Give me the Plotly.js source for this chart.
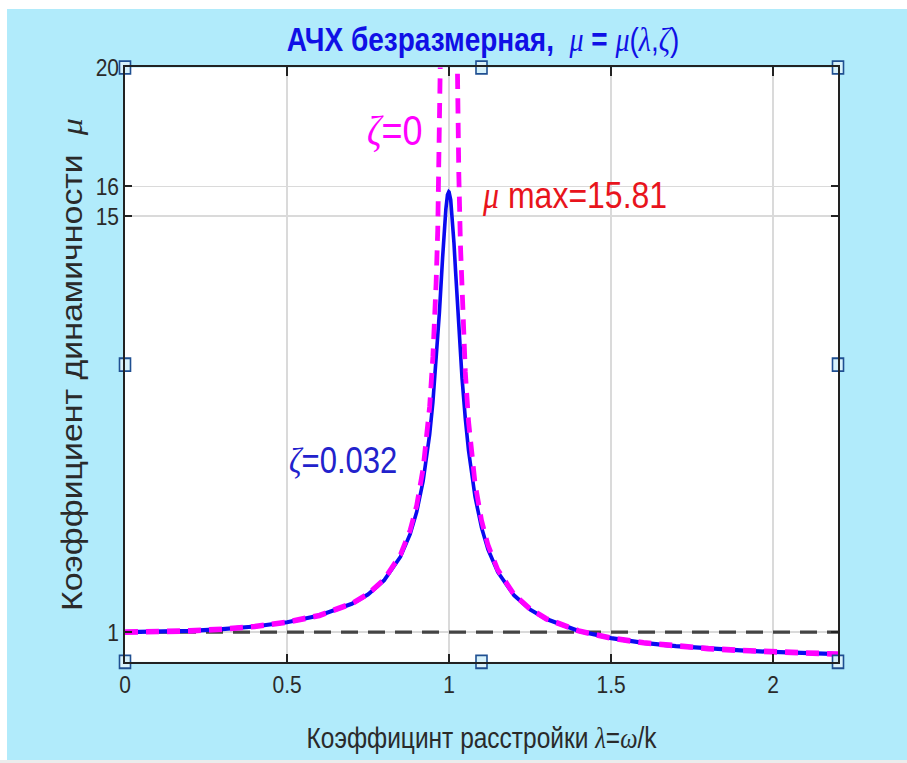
<!DOCTYPE html>
<html>
<head>
<meta charset="utf-8">
<script src="https://cdn.plot.ly/plotly-3.0.1.min.js"></script>
<style>
  html, body { margin: 0; padding: 0; background: #ffffff; width: 907px; height: 763px; overflow: hidden; }
  #bg { position: absolute; left: 7px; top: 9px; width: 900px; height: 751px; background: #b1ebfb; overflow: hidden; }
  #plot { position: absolute; left: 0; top: 0; width: 900px; height: 642px; transform: scaleY(1.17); transform-origin: 0 0; }
  #strip { position: absolute; left: 0; top: 760px; width: 907px; height: 3px; background: #ececec; }
</style>
</head>
<body>
<div id="bg"><div id="plot"></div></div>
<div id="strip"></div>
<script>
// ζ = 0.032 response
const lambdaDamped = [0, 0.1, 0.2, 0.3, 0.4, 0.5, 0.6, 0.7, 0.75, 0.8, 0.85, 0.88, 0.9, 0.92, 0.94, 0.95, 0.96, 0.97, 0.98, 0.985, 0.99, 0.995, 0.999, 1.0, 1.005, 1.01, 1.015, 1.02, 1.03, 1.04, 1.05, 1.06, 1.08, 1.1, 1.12, 1.15, 1.2, 1.25, 1.3, 1.4, 1.5, 1.6, 1.7, 1.8, 1.9, 2.0, 2.1, 2.2];
const muDamped = [1, 1.010, 1.042, 1.099, 1.190, 1.332, 1.560, 1.953, 2.272, 2.751, 3.538, 4.304, 5.042, 6.089, 7.652, 8.733, 10.09, 11.74, 13.60, 14.49, 15.23, 15.71, 15.81, 15.80, 15.55, 14.94, 14.10, 13.15, 11.22, 9.544, 8.189, 7.113, 5.560, 4.521, 3.787, 3.025, 2.240, 1.761, 1.439, 1.037, 0.798, 0.640, 0.528, 0.446, 0.383, 0.333, 0.293, 0.260];

// ζ = 0 response (goes off-scale near λ = 1)
const lambdaUndamped = [0, 0.1, 0.2, 0.3, 0.4, 0.5, 0.6, 0.7, 0.75, 0.8, 0.85, 0.88, 0.9, 0.92, 0.94, 0.95, 0.955, 0.96, 0.965, 0.97, 0.975, 0.98, null, 1.02, 1.025, 1.03, 1.035, 1.04, 1.045, 1.05, 1.06, 1.08, 1.1, 1.12, 1.15, 1.2, 1.25, 1.3, 1.4, 1.5, 1.6, 1.7, 1.8, 1.9, 2.0, 2.1, 2.2];
const muUndamped = [1, 1.010, 1.042, 1.099, 1.190, 1.333, 1.563, 1.961, 2.286, 2.778, 3.604, 4.433, 5.263, 6.510, 8.591, 10.26, 11.37, 12.76, 14.54, 16.92, 20.25, 25.25, null, 24.75, 19.75, 16.42, 14.04, 12.25, 10.87, 9.756, 8.091, 6.010, 4.762, 3.931, 3.101, 2.273, 1.778, 1.449, 1.042, 0.800, 0.641, 0.529, 0.446, 0.383, 0.333, 0.293, 0.260];

// reference level μ = 1
const refX = [0, 2.2];
const refY = [1, 1];

// axis handle squares
const handleX = [0, 1.1, 2.2, 0, 2.2, 0, 1.1, 2.2];
const handleY = [0, 0, 0, 10, 10, 20, 20, 20];

const xTickVals = [0, 0.5, 1, 1.5, 2];
const xTickText = ['0', '0.5', '1', '1.5', '2'];
const yTickVals = [1, 15, 16, 20];
const yTickText = ['1', '15', '16', '20'];

const SANS = '"Liberation Sans", Arial, sans-serif';
const SERIF = "'Liberation Serif', 'Times New Roman', serif";
const gs = (t) => '<span style="font-family:' + SERIF + '"><i>' + t + '</i></span>';

const traces = [
  { x: refX, y: refY, mode: 'lines', line: { color: '#444444', width: 2.6, dash: '17px,10px' }, hoverinfo: 'skip', showlegend: false },
  { x: lambdaDamped, y: muDamped, mode: 'lines', line: { color: '#0a0af0', width: 3.6 }, showlegend: false },
  { x: lambdaUndamped, y: muUndamped, mode: 'lines', line: { color: '#ff00ff', width: 4.8, dash: '13px,8px' }, connectgaps: false, showlegend: false },
  { x: handleX, y: handleY, mode: 'markers', cliponaxis: false,
    marker: { symbol: 'square', size: 11, color: '#d8f2fb', line: { color: '#1f4f91', width: 1.6 } }, hoverinfo: 'skip', showlegend: false }
];

const layout = {
  width: 900, height: 642,
  paper_bgcolor: '#b1ebfb', plot_bgcolor: '#ffffff',
  margin: { l: 118, r: 69, t: 49.6, b: 83.8, pad: 0 },
  title: {
    text: '<b>АЧХ безразмерная,&nbsp;&nbsp;</b>' + gs('μ') + ' <b>=</b> ' + gs('μ') + '(' + gs('λ') + ',' + gs('ζ') + ')',
    font: { family: SANS, size: 28, color: '#1010e6' },
    x: 0.529, xanchor: 'center', y: 0.959, yanchor: 'middle'
  },
  xaxis: {
    range: [0, 2.2], tickvals: xTickVals, ticktext: xTickText,
    ticks: 'inside', ticklen: 7, tickwidth: 1.5, tickcolor: '#222',
    showline: true, linecolor: '#222', linewidth: 1.8, mirror: 'ticks',
    showgrid: true, gridcolor: '#dadada', gridwidth: 1.5, zeroline: false,
    tickfont: { family: SANS, size: 21, color: '#2a2a2a' },
    title: { text: 'Коэффицинт расстройки ' + gs('λ') + '=' + gs('ω') + '/k', font: { family: SANS, size: 24.5, color: '#2a2a2a' }, standoff: 26 }
  },
  yaxis: {
    range: [0, 20], tickvals: yTickVals, ticktext: yTickText,
    ticks: 'inside', ticklen: 7, tickwidth: 1.5, tickcolor: '#222',
    showline: true, linecolor: '#222', linewidth: 1.8, mirror: 'ticks',
    showgrid: true, gridcolor: '#dadada', gridwidth: 1.3, zeroline: false,
    tickfont: { family: SANS, size: 21, color: '#2a2a2a' },
    title: { text: 'Коэффициент динамичности&nbsp;&nbsp;' + gs('μ'), font: { family: SANS, size: 29, color: '#2a2a2a' }, standoff: 4 }
  },
  annotations: [
    { x: 0.833, y: 17.9, xref: 'x', yref: 'y', showarrow: false, text: gs('ζ') + '=0', font: { family: SANS, size: 36, color: '#ff00ff' } },
    { x: 1.388, y: 15.7, xref: 'x', yref: 'y', showarrow: false, text: gs('μ') + ' max=15.81', font: { family: SANS, size: 32, color: '#e8141c' } },
    { x: 0.673, y: 6.74, xref: 'x', yref: 'y', showarrow: false, text: gs('ζ') + '=0.032', font: { family: SANS, size: 31, color: '#2222cc' } }
  ],
  showlegend: false
};

Plotly.newPlot('plot', traces, layout, { staticPlot: true });
</script>
</body>
</html>
